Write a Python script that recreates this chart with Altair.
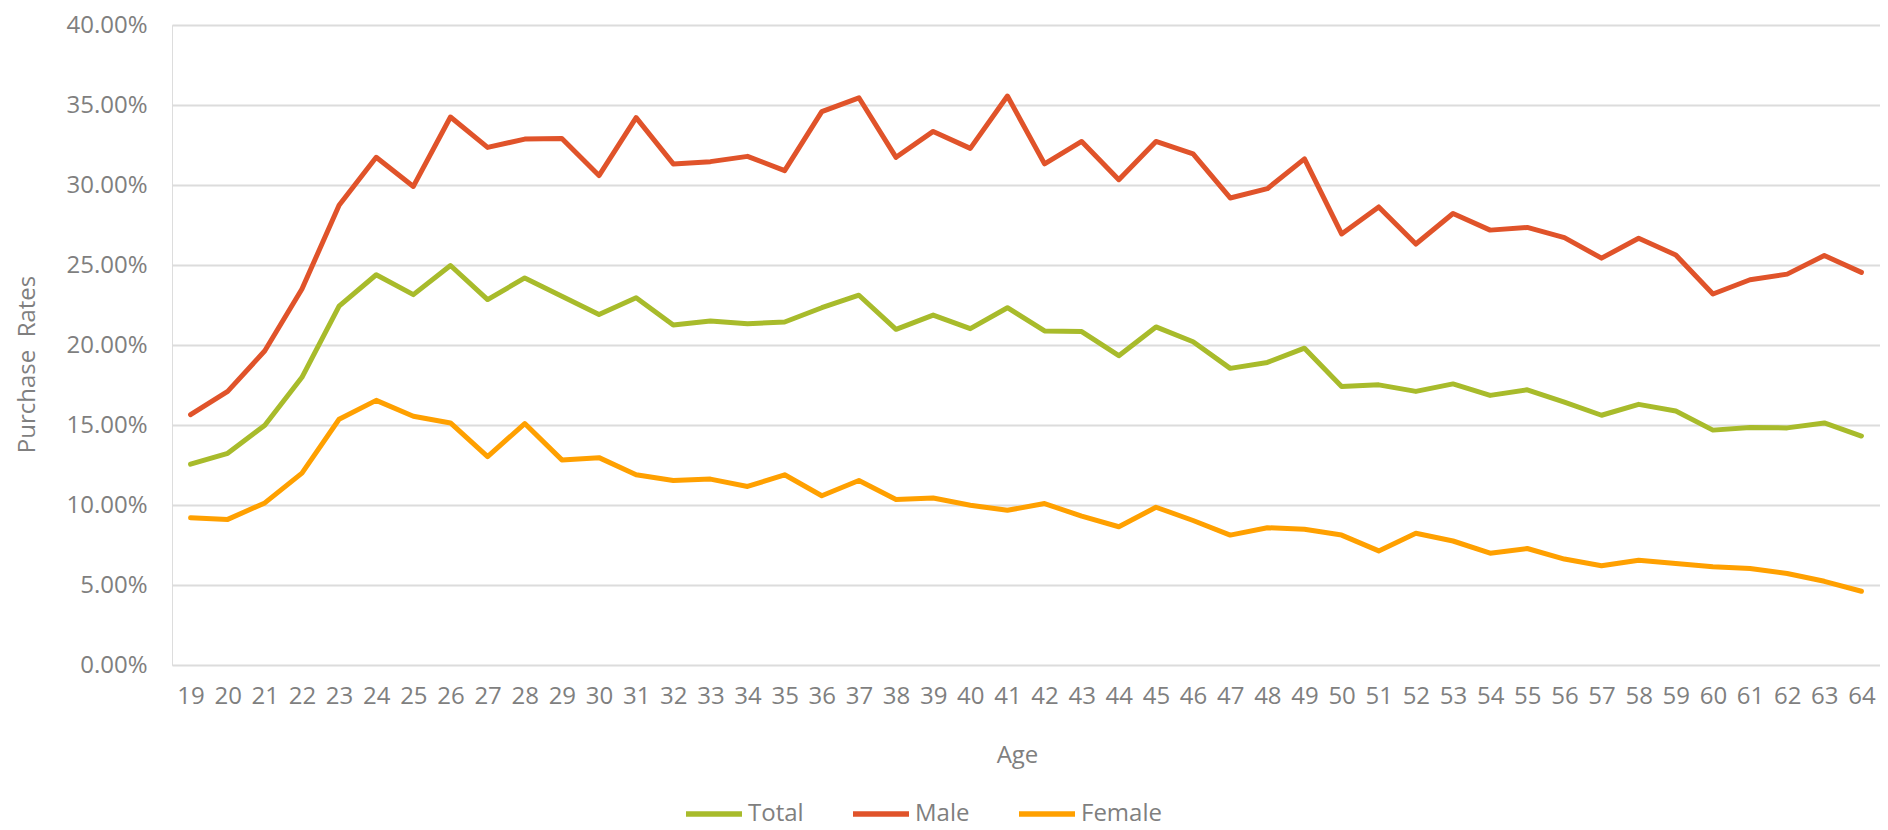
import altair as alt
import pandas as pd

ages = [19, 20, 21, 22, 23, 24, 25, 26, 27, 28, 29, 30, 31, 32, 33, 34, 35, 36, 37, 38, 39, 40,
        41, 42, 43, 44, 45, 46, 47, 48, 49, 50, 51, 52, 53, 54, 55, 56, 57, 58, 59, 60, 61, 62, 63, 64]

total = [12.55, 13.23, 14.99, 17.98, 22.43, 24.39, 23.15, 24.97, 22.84, 24.19, 23.05, 21.91, 22.95, 21.25,
         21.50, 21.33, 21.44, 22.33, 23.11, 20.98, 21.87, 21.02, 22.33, 20.88, 20.84, 19.33, 21.13, 20.20,
         18.54, 18.91, 19.80, 17.40,
         17.51, 17.10, 17.57, 16.85, 17.20, 16.43, 15.61, 16.29, 15.88, 14.68, 14.84, 14.82, 15.13, 14.31]

male = [15.65, 17.10, 19.64, 23.50, 28.73, 31.73, 29.91, 34.25, 32.35, 32.87, 32.91, 30.59, 34.21, 31.32,
        31.46, 31.79, 30.90, 34.59, 35.45, 31.73, 33.35, 32.29, 35.56, 31.32, 32.72, 30.33, 32.72, 31.94,
        29.19, 29.77, 31.63, 26.94,
        28.63, 26.31, 28.22, 27.18, 27.35, 26.71, 25.43, 26.67, 25.63, 23.19, 24.08, 24.43, 25.59, 24.54]

female = [9.20, 9.10, 10.13, 11.99, 15.36, 16.54, 15.55, 15.13, 13.02, 15.09, 12.82, 12.96, 11.89, 11.53,
          11.62, 11.16, 11.89, 10.58, 11.53, 10.34, 10.44, 9.98, 9.67, 10.09, 9.30, 8.64, 9.86, 9.03,
          8.12, 8.58, 8.48, 8.12,
          7.13, 8.23, 7.75, 6.99, 7.28, 6.62, 6.20, 6.55, 6.34, 6.14, 6.03, 5.72, 5.23, 4.61]

series_names = ["Total", "Male", "Female"]
series_colors = ["#A8BB2B", "#E0532A", "#FFA000"]
y_ticks = [0.0, 0.05, 0.10, 0.15, 0.20, 0.25, 0.30, 0.35, 0.40]

rows = []
for name, vals in zip(series_names, [total, male, female]):
    for a, v in zip(ages, vals):
        rows.append({"Age": a, "Series": name, "Rate": v / 100.0})
df = pd.DataFrame(rows)

FONT = "'Open Sans', 'Noto Sans', sans-serif"
GRAY = "#7F7F7F"

chart = alt.Chart(df).mark_line(strokeWidth=5, strokeCap="round", strokeJoin="round").encode(
    x=alt.X("Age:O", sort=ages,
            axis=alt.Axis(title="Age", labelAngle=0, labelFontSize=24, labelColor=GRAY,
                          labelFont=FONT, labelPadding=19,
                          ticks=False, domain=False, grid=False,
                          titleFontSize=24, titleColor=GRAY, titleFont=FONT, titleFontWeight="normal",
                          titleX=845, titleY=97, titleBaseline="alphabetic", titleAlign="center")),
    y=alt.Y("Rate:Q", scale=alt.Scale(domain=[0, 0.4], nice=False),
            axis=alt.Axis(title="Purchase\u00a0 Rates", format=".2%", values=y_ticks,
                          labelFontSize=24, labelColor=GRAY, labelFont=FONT,
                          labelPadding=25, ticks=False, domain=False,
                          grid=True, gridColor="#DCDCDC", gridWidth=2,
                          titleFontSize=24, titleColor=GRAY, titleFont=FONT, titleFontWeight="normal",
                          titleAngle=-90, titleX=-145, titleY=339, titleBaseline="middle",
                          titleAlign="center")),
    color=alt.Color("Series:N", sort=series_names,
                    scale=alt.Scale(domain=series_names, range=series_colors),
                    legend=alt.Legend(title=None, orient="none", direction="horizontal",
                                      legendX=511, legendY=758,
                                      symbolType="stroke", symbolSize=3136, symbolStrokeWidth=5.5,
                                      labelFontSize=24, labelColor=GRAY, labelFont=FONT,
                                      labelOffset=3, columnPadding=38)),
    order=alt.Order("Age:O"),
).properties(
    width=1708, height=640,
    autosize=alt.AutoSizeParams(type="none"),
    padding={"left": 164, "top": 17, "right": 0, "bottom": 165},
).configure_view(stroke=None).configure(background="white")

chart.save("out.html", embed_options={"renderer": "svg", "actions": False})
